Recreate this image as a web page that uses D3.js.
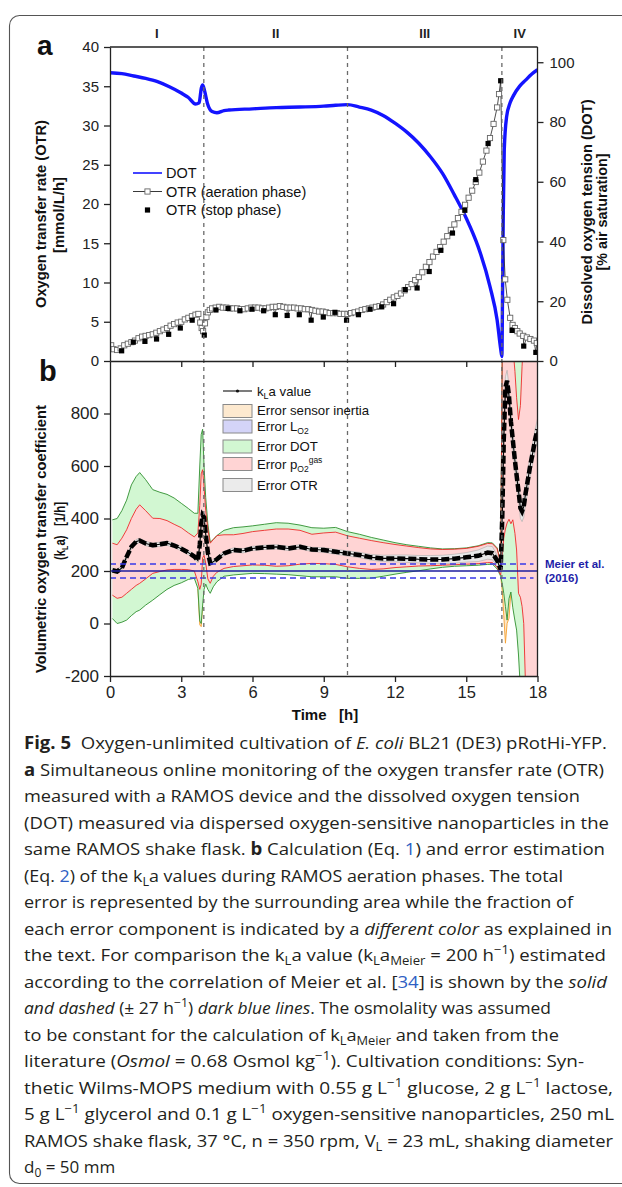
<!DOCTYPE html>
<html>
<head>
<meta charset="utf-8">
<script src="https://cdn.jsdelivr.net/npm/d3@7"></script>
<style>
body { margin: 0; background: #fff; }
</style>
</head>
<body>
<div id="chart"></div>
<script>
// ---- panel a : DOT (right axis, % air saturation) ----
var dotSeries = [[0,96.5],[0.5,96.2],[1,95.4],[1.5,94.6],[2,93.5],[2.5,91.8],[3,89.7],[3.3,88.2],[3.6,86.0],
  [3.75,86.4],[3.85,91.5],[3.9,92.4],[3.98,90.5],[4.1,86.3],[4.3,83.5],[4.5,83.1],[4.8,83.8],[5,84.0],[6,84.4],
  [7,84.8],[8,85.0],[9,85.3],[9.5,85.6],[10,85.8],[10.5,85.0],[11,84.0],[11.5,82.2],[12,79.6],[12.5,76.6],
  [13,72.9],[13.5,68.3],[14,62.8],[14.5,55.6],[15,47.8],[15.5,38.3],[16,24.9],[16.3,13.7],[16.45,4.0],
  [16.5,1.5],[16.53,25],[16.56,50],[16.6,70.6],[16.7,81.8],[16.85,86.5],[17,89],[17.25,92],[17.5,94],
  [17.75,96],[18,97.5]];

// ---- panel a : OTR, aeration phase (open squares) ----
var otrAer = [[0.05,2.0],[0.15,1.5],[0.3,1.4],[0.45,1.6],[0.6,2.0],[0.75,2.2],[0.9,2.4],[1.05,2.6],[1.2,2.9],
  [1.35,3.1],[1.5,3.2],[1.65,3.3],[1.8,3.4],[1.95,3.6],[2.1,3.8],[2.25,4.0],[2.4,4.2],[2.55,4.5],[2.7,4.7],
  [2.85,4.9],[3.0,5.0],[3.15,5.3],[3.3,5.5],[3.45,5.7],[3.6,5.9],[3.72,6.0],[3.8,4.9],[3.86,4.2],[3.92,3.8],
  [4.0,4.8],[4.06,5.6],[4.12,6.2],[4.2,6.5],[4.3,6.7],[4.45,6.8],[4.6,6.9],[4.75,6.8],[4.9,6.8],[5.05,6.7],
  [5.2,6.7],[5.35,6.7],[5.5,6.6],[5.65,6.6],[5.8,6.7],[5.95,6.8],[6.1,6.8],[6.25,6.8],[6.4,6.7],[6.55,6.7],
  [6.7,6.8],[6.85,6.9],[7.0,6.9],[7.15,7.0],[7.3,6.9],[7.45,6.8],[7.6,6.8],[7.75,6.8],[7.9,6.7],[8.05,6.7],
  [8.2,6.6],[8.35,6.6],[8.5,6.5],[8.65,6.4],[8.8,6.3],[8.95,6.3],[9.1,6.2],[9.25,6.1],[9.4,6.1],[9.55,6.1],
  [9.7,6.0],[9.85,6.0],[10.0,6.0],[10.15,6.1],[10.3,6.2],[10.45,6.3],[10.6,6.5],[10.75,6.6],[10.9,6.7],
  [11.05,6.8],[11.2,6.9],[11.35,7.0],[11.5,7.2],[11.65,7.5],[11.8,7.8],[11.95,8.1],[12.1,8.3],[12.25,8.6],
  [12.4,9.0],[12.55,9.4],[12.7,9.8],[12.85,10.3],[13.0,10.7],[13.15,11.3],[13.3,12.0],[13.45,12.6],
  [13.6,13.3],[13.75,13.9],[13.9,14.5],[14.05,15.2],[14.2,15.9],[14.35,16.7],[14.5,17.4],[14.65,18.2],
  [14.8,19.0],[14.95,19.9],[15.1,20.8],[15.25,21.7],[15.4,22.8],[15.55,24.0],[15.7,25.4],[15.85,26.8],
  [16.0,28.4],[16.15,30.2],[16.3,32.3],[16.38,34.0],[16.56,15.4],[16.64,10.4],[16.73,7.8],[16.85,5.5],
  [16.95,4.6],[17.05,4.2],[17.15,3.8],[17.25,3.5],[17.4,3.2],[17.55,3.0],[17.7,2.8],[17.85,2.6],[17.97,2.3]];

// ---- panel a : OTR, stop phase (filled squares) ----
var otrStop = [[0.49,1.3],[0.98,2.4],[1.47,2.5],[1.96,2.8],[2.47,3.4],[2.96,4.2],[3.46,5.2],[3.97,3.3],
  [4.46,6.5],[4.97,6.7],[5.47,6.4],[5.98,6.6],[6.47,6.4],[6.96,5.9],[7.46,5.8],[7.97,5.9],[8.47,5.2],
  [8.98,5.6],[9.47,6.2],[9.96,5.2],[10.46,5.9],[10.95,6.6],[11.44,6.9],[11.94,7.3],[12.43,9.1],[12.93,9.3],
  [13.44,11.4],[13.93,14.1],[14.42,16.3],[14.94,19.2],[15.4,23.1],[15.92,27.7],[16.45,35.7],[16.93,3.9],
  [17.42,1.9],[17.93,1.1]];

// ---- panel b : kLa and error bounds, sampled at tB ----
var tB = [0.1,0.3,0.5,0.7,0.9,1.1,1.25,1.5,1.8,2.1,
  2.4,2.7,3.0,3.3,3.55,3.7,3.78,3.84,3.9,3.96,
  4.03,4.12,4.22,4.35,4.5,4.8,5.2,5.6,6.0,6.5,
  7.0,7.5,8.0,8.5,9.0,9.5,10.0,10.5,11.0,11.5,
  12.0,12.5,13.0,13.5,14.0,14.5,15.0,15.5,15.9,16.1,
  16.3,16.45,16.52,16.58,16.65,16.72,16.8,16.88,16.96,17.05,
  17.12,17.2,17.28,17.35,17.42,17.5,17.6,17.7,17.8,17.9,18.0];
var klaV = [203,198,212,254,292,312,316,305,298,302,
  306,297,285,270,255,240,300,380,413,405,
  340,270,230,235,245,267,280,277,286,290,
  292,286,292,282,280,273,267,261,252,248,
  248,247,245,244,244,247,252,258,270,268,
  240,206,420,700,900,925,866,770,700,620,
  565,505,440,428,445,497,550,605,650,700,740];
var pO2Hi = [306,300,325,357,400,435,452,430,401,400,
  392,378,365,345,330,345,450,570,586,520,
  430,360,306,320,335,338,338,343,350,355,
  360,360,355,340,345,348,334,325,316,308,
  301,295,289,284,282,283,286,294,305,304,
  285,232,1100,1100,1100,1100,1100,1100,1060,960,
  860,777,830,980,1100,1100,1100,1100,1100,1100,1100];
var pO2Lo = [108,96,100,115,130,145,153,170,191,198,
  204,206,206,205,200,159,130,150,250,260,
  230,170,153,180,195,210,217,220,223,222,
  218,220,226,229,228,225,216,210,206,208,
  213,216,219,220,222,224,226,228,232,232,
  215,185,260,325,360,383,397,380,395,343,
  280,115,100,65,0,-250,-250,-250,-250,-250,-250];
var dotHi = [395,400,430,470,528,560,575,548,510,500,
  492,478,458,438,420,420,600,720,740,600,
  480,380,310,320,335,355,365,368,372,378,
  384,382,375,365,363,366,350,340,328,318,
  308,300,294,288,284,285,288,296,308,307,
  288,235,1100,1100,1100,1100,1100,1100,1100,1100,
  1100,1100,1100,1100,1100,1100,1100,1100,1100,1100,1100];
var dotLo = [19,0,5,13,30,45,51,70,89,110,
  130,145,155,168,172,134,10,0,70,130,
  150,130,115,140,159,180,185,188,191,190,
  188,186,182,178,178,178,172,172,173,180,
  188,195,201,208,214,218,220,222,225,226,
  208,180,150,115,65,13,95,120,60,10,
  -25,-120,-250,-250,-250,-250,-250,-250,-250,-250,-250];
var otrErr = [8,8,8,8,8,8,8,8,8,8,
  8,8,8,8,8,8,10,10,10,10,
  10,8,8,8,8,8,8,8,8,8,
  8,8,8,8,9,9,10,10,11,12,
  13,14,14,15,16,17,18,22,25,25,
  20,12,30,40,40,40,40,40,40,40,
  40,40,40,40,40,40,40,40,40,40,40];
// sensor inertia error, only where it sticks out: [t, lower, upper]
var inertiaA = [[3.7,134,134],[3.78,-5,10],[3.84,-12,0],[3.9,70,70]];
var inertiaB = [[16.45,180,180],[16.52,120,150],[16.58,30,115],[16.65,-75,65],[16.72,0,13],[16.8,20,95],[16.88,120,120]];

var meier = 200, meierErr = 27;
var phaseEdges = [0, 3.95, 10, 16.5, 18];
var phaseNames = ["I", "II", "III", "IV"];
var otrTicks = [0,5,10,15,20,25,30,35,40];
var dotTicks = [0,20,40,60,80,100];
var klaTicks = [-200,0,200,400,600,800];
var timeTicks = [0,3,6,9,12,15,18];

var captionLines = [
  "**Fig. 5**\u00a0 Oxygen-unlimited cultivation of _E. coli_ BL21 (DE3) pRotHi-YFP.",
  "**a** Simultaneous online monitoring of the oxygen transfer rate (OTR)",
  "measured with a RAMOS device and the dissolved oxygen tension",
  "(DOT) measured via dispersed oxygen-sensitive nanoparticles in the",
  "same RAMOS shake flask. **b** Calculation (Eq. {1}) and error estimation",
  "(Eq. {2}) of the k~L~a values during RAMOS aeration phases. The total",
  "error is represented by the surrounding area while the fraction of",
  "each error component is indicated by a _different color_ as explained in",
  "the text. For comparison the k~L~a value (k~L~a~Meier~ = 200 h^\u22121^) estimated",
  "according to the correlation of Meier et al. [{34}] is shown by the _solid_",
  "_and dashed_ (\u00b1 27 h^\u22121^) _dark blue lines_. The osmolality was assumed",
  "to be constant for the calculation of k~L~a~Meier~ and taken from the",
  "literature (_Osmol_ = 0.68 Osmol kg^\u22121^). Cultivation conditions: Syn-",
  "thetic Wilms-MOPS medium with 0.55 g L^\u22121^ glucose, 2 g L^\u22121^ lactose,",
  "5 g L^\u22121^ glycerol and 0.1 g L^\u22121^ oxygen-sensitive nanoparticles, 250 mL",
  "RAMOS shake flask, 37 \u00b0C, n = 350 rpm, V~L~ = 23 mL, shaking diameter",
  "d~0~ = 50 mm"
];
// right end of each caption line in the reference (last line left at its natural width)
var captionEnds = [607, 604, 580, 609, 605, 563, 573, 612, 606, 607, 551, 559, 584, 613, 614, 613, null];

var FONT = "'Liberation Sans', Arial, sans-serif";
var left = 110, right = 537.5, topA = 47, midY = 361, botB = 676;

var svg = d3.select("#chart").append("svg")
  .attr("width", 622).attr("height", 1187)
  .style("display", "block");

var x = d3.scaleLinear().domain([0, 18]).range([left, right]);
var yOtr = d3.scaleLinear().domain([0, 40]).range([midY, topA]);
var yDot = d3.scaleLinear().domain([0, 105.1]).range([midY, topA]);
var yKla = d3.scaleLinear().domain([-200, 1000]).range([botB, midY]);

// frame round the figure
svg.append("rect").attr("x", 9.5).attr("y", 15.5).attr("width", 700).attr("height", 1168)
  .attr("rx", 10).attr("fill", "none").attr("stroke", "#555").attr("stroke-width", 1.1);

var defs = svg.append("defs");
defs.append("clipPath").attr("id", "clipA").append("rect")
  .attr("x", left).attr("y", topA).attr("width", right - left).attr("height", midY - topA);
defs.append("clipPath").attr("id", "clipB").append("rect")
  .attr("x", left).attr("y", midY).attr("width", right - left).attr("height", botB - midY);

// rich text helper: **bold** _italic_ ~sub~ ^sup^ {link}
function addRich(sel, str, o) {
  var parts = str.split(/(\*\*.+?\*\*|_.+?_|~.+?~|\^.+?\^|\{.+?\})/).filter(function(s) { return s.length; });
  var shift = 0;
  parts.forEach(function(p) {
    var txt = p, kind = "";
    if (p.slice(0, 2) == "**") { txt = p.slice(2, -2); kind = "b"; }
    else if (p[0] == "_" && p.length > 1 && p[p.length - 1] == "_") { txt = p.slice(1, -1); kind = "i"; }
    else if (p[0] == "~" && p.length > 1) { txt = p.slice(1, -1); kind = "sub"; }
    else if (p[0] == "^" && p.length > 1) { txt = p.slice(1, -1); kind = "sup"; }
    else if (p[0] == "{" && p.length > 1) { txt = p.slice(1, -1); kind = "link"; }
    var sp = sel.append("tspan").text(txt);
    if (kind == "b") sp.attr("font-weight", "bold");
    if (kind == "i") sp.attr("font-style", "italic");
    if (kind == "link") sp.attr("fill", "#2f5fc4");
    var want = kind == "sub" ? o.subDy : kind == "sup" ? -o.supDy : 0;
    if (want != shift) { sp.attr("dy", want - shift); shift = want; }
    if (kind == "sub" || kind == "sup") sp.attr("font-size", o.small);
  });
}

// ================= panel b fills =================
var rows = tB.map(function(t, i) {
  return { t: t, k: klaV[i], rHi: pO2Hi[i], rLo: pO2Lo[i], gHi: dotHi[i], gLo: dotLo[i], e: otrErr[i] };
});
var gB = svg.append("g").attr("clip-path", "url(#clipB)");

function band(lo, hi) {
  return d3.area().x(function(d) { return x(d.t); }).y0(function(d) { return yKla(lo(d)); }).y1(function(d) { return yKla(hi(d)); });
}
function edge(f) {
  return d3.line().x(function(d) { return x(d.t); }).y(function(d) { return yKla(f(d)); });
}

var inertiaArea = d3.area().x(function(d) { return x(d[0]); })
  .y0(function(d) { return yKla(d[1]); }).y1(function(d) { return yKla(d[2]); });
var inertiaLine = d3.line().x(function(d) { return x(d[0]); }).y(function(d) { return yKla(d[1]); });
[inertiaA, inertiaB].forEach(function(arr) {
  gB.append("path").attr("d", inertiaArea(arr)).attr("fill", "#fde6c6");
  gB.append("path").attr("d", inertiaLine(arr)).attr("fill", "none").attr("stroke", "#f5a030").attr("stroke-width", 0.9);
});

gB.append("path").attr("d", band(function(d) { return d.gLo; }, function(d) { return d.gHi; })(rows))
  .attr("fill", "#d2f7d2");
gB.append("path").attr("d", band(function(d) { return d.rLo; }, function(d) { return d.rHi; })(rows))
  .attr("fill", "#ffd4d4");
gB.append("path").attr("d", band(function(d) { return d.k - d.e; }, function(d) { return d.k + d.e; })(rows))
  .attr("fill", "#e8e8e8");

[["gHi", "#2f8f2f"], ["gLo", "#2f8f2f"], ["rHi", "#ee2a2a"], ["rLo", "#ee2a2a"]].forEach(function(p) {
  gB.append("path").attr("d", edge(function(d) { return d[p[0]]; })(rows))
    .attr("fill", "none").attr("stroke", p[1]).attr("stroke-width", 0.9);
});
gB.append("path").attr("d", edge(function(d) { return d.k + d.e; })(rows))
  .attr("fill", "none").attr("stroke", "#aaa").attr("stroke-width", 0.6);
gB.append("path").attr("d", edge(function(d) { return d.k - d.e; })(rows))
  .attr("fill", "none").attr("stroke", "#aaa").attr("stroke-width", 0.6);

// Meier et al. correlation
svg.append("line").attr("x1", left).attr("x2", right).attr("y1", yKla(meier)).attr("y2", yKla(meier))
  .attr("stroke", "#1e1e9e").attr("stroke-width", 1.6);
[meier + meierErr, meier - meierErr].forEach(function(v) {
  svg.append("line").attr("x1", left).attr("x2", right - 4).attr("y1", yKla(v)).attr("y2", yKla(v))
    .attr("stroke", "#3a3ae8").attr("stroke-width", 1.5).attr("stroke-dasharray", "6,4");
});

// kLa line
var klaLine = d3.line().x(function(d) { return x(d.t); }).y(function(d) { return yKla(d.k); });
gB.append("path").attr("d", klaLine(rows)).attr("fill", "none").attr("stroke", "#000").attr("stroke-width", 1.1);
gB.append("path").attr("d", klaLine(rows)).attr("fill", "none").attr("stroke", "#000")
  .attr("stroke-width", 4.5).attr("stroke-dasharray", "8,3");

// ================= panel a =================
var gA = svg.append("g").attr("clip-path", "url(#clipA)");
var dotLine = d3.line().x(function(d) { return x(d[0]); }).y(function(d) { return yDot(d[1]); }).curve(d3.curveMonotoneX);
gA.append("path").attr("d", dotLine(dotSeries)).attr("fill", "none")
  .attr("stroke", "#1414ff").attr("stroke-width", 3.4);

var otrAll = otrAer.concat(otrStop).sort(function(a, b) { return a[0] - b[0]; });
var otrLine = d3.line().x(function(d) { return x(d[0]); }).y(function(d) { return yOtr(d[1]); });
gA.append("path").attr("d", otrLine(otrAll)).attr("fill", "none").attr("stroke", "#222").attr("stroke-width", 0.8);

var sq = 5.2;
gA.selectAll("rect.aer").data(otrAer).enter().append("rect").attr("class", "aer")
  .attr("x", function(d) { return x(d[0]) - sq / 2; }).attr("y", function(d) { return yOtr(d[1]) - sq / 2; })
  .attr("width", sq).attr("height", sq)
  .attr("fill", "#fff").attr("stroke", "#666").attr("stroke-width", 0.9);
gA.selectAll("rect.stop").data(otrStop).enter().append("rect").attr("class", "stop")
  .attr("x", function(d) { return x(d[0]) - sq / 2; }).attr("y", function(d) { return yOtr(d[1]) - sq / 2; })
  .attr("width", sq).attr("height", sq).attr("fill", "#000");

// phase separators
phaseEdges.slice(1, 4).forEach(function(t) {
  svg.append("line").attr("x1", x(t)).attr("x2", x(t)).attr("y1", topA).attr("y2", botB)
    .attr("stroke", "#6a6a6a").attr("stroke-width", 1.3).attr("stroke-dasharray", "4,4");
});
phaseNames.forEach(function(n, i) {
  svg.append("text").attr("x", x((phaseEdges[i] + phaseEdges[i + 1]) / 2)).attr("y", 38)
    .attr("text-anchor", "middle").attr("font-family", FONT).attr("font-weight", "bold")
    .attr("font-size", 13).attr("fill", "#222").text(n);
});

// ================= axes =================
function styleAxis(g, fs) {
  g.attr("font-family", FONT).attr("font-size", fs);
  g.select(".domain").attr("stroke", "#222").attr("stroke-width", 1.3);
  g.selectAll(".tick line").attr("stroke", "#222").attr("stroke-width", 1.3);
  g.selectAll(".tick text").attr("fill", "#222");
}
var plain = function(d) { return String(d); };
var ax;
ax = svg.append("g").attr("transform", "translate(" + left + ",0)")
  .call(d3.axisLeft(yOtr).tickValues(otrTicks).tickSize(6).tickSizeOuter(0).tickPadding(5));
styleAxis(ax, 15);
ax = svg.append("g").attr("transform", "translate(" + right + ",0)")
  .call(d3.axisRight(yDot).tickValues(dotTicks).tickSize(6).tickSizeOuter(0).tickPadding(6));
styleAxis(ax, 15);
ax.select(".domain").attr("d", "M0," + topA + "V" + midY);
ax = svg.append("g").attr("transform", "translate(" + left + ",0)")
  .call(d3.axisLeft(yKla).tickValues(klaTicks).tickFormat(plain).tickSize(6).tickSizeOuter(0).tickPadding(5));
styleAxis(ax, 17);
ax = svg.append("g").attr("transform", "translate(0," + botB + ")")
  .call(d3.axisBottom(x).tickValues(timeTicks).tickSize(6).tickSizeOuter(0).tickPadding(4));
styleAxis(ax, 16.5);
ax = svg.append("g").attr("transform", "translate(0," + midY + ")")
  .call(d3.axisBottom(x).tickValues(timeTicks.slice(1, 6)).tickSize(6).tickSizeOuter(0).tickFormat(""));
styleAxis(ax, 15);
svg.append("line").attr("x1", left).attr("x2", right).attr("y1", topA).attr("y2", topA)
  .attr("stroke", "#222").attr("stroke-width", 1.3);
svg.append("line").attr("x1", right).attr("x2", right).attr("y1", midY).attr("y2", botB)
  .attr("stroke", "#222").attr("stroke-width", 1.3);

// axis titles
function vTitle(str, cx, cy, len, fs) {
  var t = svg.append("text").attr("transform", "translate(" + cx + "," + cy + ") rotate(-90)")
    .attr("text-anchor", "middle").attr("font-family", FONT).attr("font-weight", "bold")
    .attr("font-size", fs).attr("fill", "#111")
    .attr("textLength", len).attr("lengthAdjust", "spacingAndGlyphs");
  addRich(t, str, { subDy: 3, supDy: 6, small: 9 });
}
vTitle("Oxygen transfer rate (OTR)", 46, 214, 188, 14.5);
vTitle("[mmol/L/h]", 64, 215, 76, 14.5);
vTitle("Dissolved oxygen tension (DOT)", 592, 212, 225, 14.5);
vTitle("[% air saturation]", 607, 212, 117, 14.5);
vTitle("Volumetric oxygen transfer coefficient", 45.5, 539, 268, 14.5);
vTitle("(k~L~a)\u00a0\u00a0 [1/h]", 65, 531, 58, 14.5);

svg.append("text").attr("x", 325).attr("y", 720).attr("text-anchor", "middle")
  .attr("font-family", FONT).attr("font-weight", "bold").attr("font-size", 15).attr("fill", "#111")
  .text("Time\u00a0\u00a0 [h]");

svg.append("text").attr("x", 37).attr("y", 55).attr("font-family", FONT).attr("font-weight", "bold")
  .attr("font-size", 28).attr("fill", "#111").text("a");
svg.append("text").attr("x", 39).attr("y", 381).attr("font-family", FONT).attr("font-weight", "bold")
  .attr("font-size", 29).attr("fill", "#111").text("b");

// Meier label
svg.append("text").attr("x", 545).attr("y", yKla(meier + meierErr) + 4).attr("font-family", FONT)
  .attr("font-weight", "bold").attr("font-size", 11.5).attr("fill", "#1e1ea8").text("Meier et al.");
svg.append("text").attr("x", 545).attr("y", yKla(meier - meierErr) + 4).attr("font-family", FONT)
  .attr("font-weight", "bold").attr("font-size", 11.5).attr("fill", "#1e1ea8").text("(2016)");

// ================= legends =================
var lgA = svg.append("g").attr("font-family", FONT).attr("font-size", 14.5).attr("fill", "#111");
var lax = 133, lbx = 162;
lgA.append("line").attr("x1", lax).attr("x2", lbx).attr("y1", 173).attr("y2", 173).attr("stroke", "#1414ff").attr("stroke-width", 1.6);
lgA.append("text").attr("x", 166).attr("y", 178).text("DOT");
lgA.append("line").attr("x1", lax).attr("x2", lbx).attr("y1", 191.5).attr("y2", 191.5).attr("stroke", "#222").attr("stroke-width", 0.9);
lgA.append("rect").attr("x", 147.5 - sq / 2).attr("y", 191.5 - sq / 2).attr("width", sq).attr("height", sq)
  .attr("fill", "#fff").attr("stroke", "#666").attr("stroke-width", 0.9);
lgA.append("text").attr("x", 166).attr("y", 196.5).text("OTR (aeration phase)");
lgA.append("rect").attr("x", 147.5 - sq / 2).attr("y", 210 - sq / 2).attr("width", sq).attr("height", sq).attr("fill", "#000");
lgA.append("text").attr("x", 166).attr("y", 215).text("OTR (stop phase)");

var lgB = svg.append("g").attr("font-family", FONT).attr("font-size", 13.2).attr("fill", "#111");
lgB.append("line").attr("x1", 223).attr("x2", 252).attr("y1", 391).attr("y2", 391).attr("stroke", "#111").attr("stroke-width", 1.1);
lgB.append("circle").attr("cx", 237.5).attr("cy", 391).attr("r", 1.6).attr("fill", "#111");
addRich(lgB.append("text").attr("x", 257).attr("y", 395.5), "k~L~a value", { subDy: 3, supDy: 6, small: 9 });
var legRows = [
  ["Error sensor inertia", "#fde9cf", 404.5, 415],
  ["Error L~O2~", "#d4d4f8", 420, 430.5],
  ["Error DOT", "#d2f7d2", 440, 451],
  ["Error p~O2~^gas^", "#ffd4d4", 457.5, 468.5],
  ["Error OTR", "#ebebeb", 478.5, 489.5]
];
legRows.forEach(function(r) {
  lgB.append("rect").attr("x", 223).attr("y", r[2]).attr("width", 29).attr("height", 13)
    .attr("fill", r[1]).attr("stroke", "#8a8a8a").attr("stroke-width", 1);
  addRich(lgB.append("text").attr("x", 257).attr("y", r[3]), r[0], { subDy: 3.5, supDy: 6, small: 8.5 });
});

// ================= caption =================
var capG = svg.append("g").attr("font-family", "'Open Sans', 'Noto Sans', sans-serif")
  .attr("font-size", 17).attr("fill", "#231f20");
var capX = 24, capY0 = 749, capDy = 26.5;
captionLines.forEach(function(line, i) {
  var t = capG.append("text").attr("x", capX).attr("y", capY0 + i * capDy);
  if (captionEnds[i]) t.attr("textLength", captionEnds[i] - capX).attr("lengthAdjust", "spacingAndGlyphs");
  addRich(t, line, { subDy: 4, supDy: 7, small: 12 });
});
</script>
</body>
</html>
